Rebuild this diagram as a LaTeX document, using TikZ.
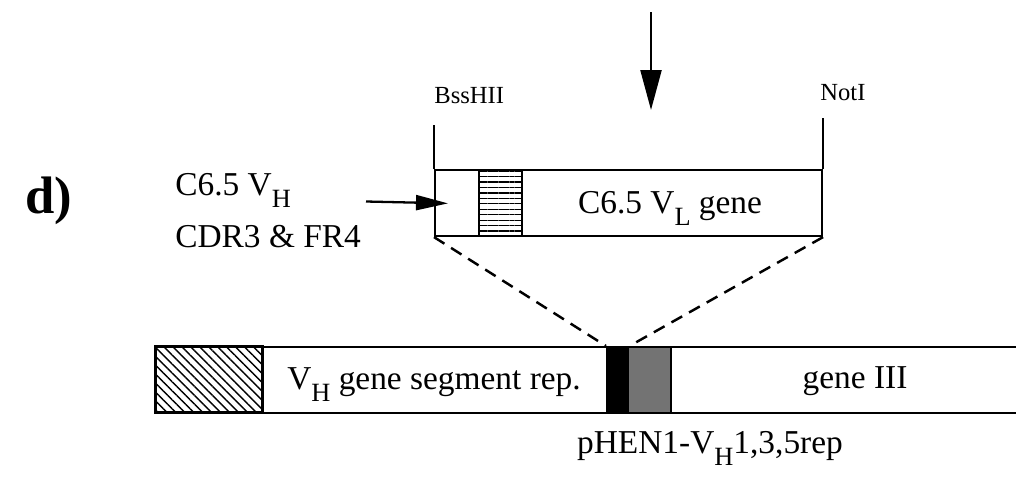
\documentclass[tikz,border=0pt]{standalone}
\usepackage{fontspec}
\setmainfont{Liberation Serif}
\usetikzlibrary{arrows.meta, patterns.meta}

\newcommand{\lowsub}[1]{\raisebox{-7pt}{\fontsize{15}{15}\selectfont #1}}

\begin{document}
\begin{tikzpicture}[
        x=0.02cm, y=-0.02cm,
        every node/.style={font=\fontsize{19}{22}\selectfont, inner sep=0pt},
        seg/.style={rectangle, draw, line width=1.4pt, anchor=north west, minimum height=1.32cm},
        site/.style={font=\fontsize{14}{16}\selectfont, anchor=base west},
        genetext/.style={anchor=base},
        arrow/.style={-{Triangle[length=0.8cm, width=0.42cm]}, line width=1.3pt},
        smallarrow/.style={-{Triangle[length=0.64cm, width=0.3cm]}, line width=1.3pt},
        fuse/.style={dash pattern=on 7pt off 4.5pt, line width=1.4pt}
    ]
        \clip (0,0) rectangle (1016,487);

        \node[font=\fontsize{30}{34}\selectfont\bfseries, anchor=base west] (panel) at (25,213) {d)};

        % insert
        \node[seg, line width=1.2pt, minimum width=7.74cm] (insert) at (434,169) {};
        \node[seg, line width=1.2pt, minimum width=0.86cm, pattern={Lines[angle=0, distance=3.1pt, line width=0.7pt]}] (cdrblock) at (478,169) {};
        \node[genetext] (vlgene) at (670,213) {C6.5 V\lowsub{L} gene};

        \node[site] (bss) at (434,103) {BssHII};
        \node[site] (noti) at (820,100) {NotI};
        \coordinate (bsstop) at (434,125);
        \coordinate (nottop) at (821,118);
        \draw[line width=1.1pt] (insert.north west) -- (insert.north west |- bsstop);
        \draw[line width=1.1pt] (insert.north east) -- (insert.north east |- nottop);

        \coordinate (intail) at (651,12);
        \coordinate (inhead) at (651,110);
        \draw[arrow] (intail) -- (inhead);

        \node[anchor=base west] (vhname) at (175,195) {C6.5 V\lowsub{H}};
        \node[anchor=base west] (cdrname) at (175,247) {CDR3 \& FR4};
        \coordinate (cdrtail) at (366,201.5);
        \draw[smallarrow, shorten >=-0.28cm] (cdrtail) -- (insert.west);

        % vector
        \node[seg, minimum width=2.14cm, pattern={Lines[angle=-45, distance=3.6pt, line width=0.8pt]}] (frblock) at (155,346) {};
        \node[seg, minimum width=6.88cm] (vhrep) at (262,346) {};
        \node[seg, minimum width=0.42cm, fill=black] (link) at (606,346) {};
        \node[seg, minimum width=0.86cm, fill=black!55] (tagblock) at (627,346) {};
        \node[seg, minimum width=7.2cm] (geneiii) at (670,346) {};

        \node[genetext] (vhlabel) at (434,389) {V\lowsub{H} gene segment rep.};
        \node[genetext] (g3label) at (855,388) {gene III};
        \node[genetext] (vector) at (710,453) {pHEN1-V\lowsub{H}1,3,5rep};

        \draw[fuse] (insert.south west) -- (link.north west);
        \draw[fuse] (insert.south east) -- (link.north east);
    \end{tikzpicture}
\end{document}
